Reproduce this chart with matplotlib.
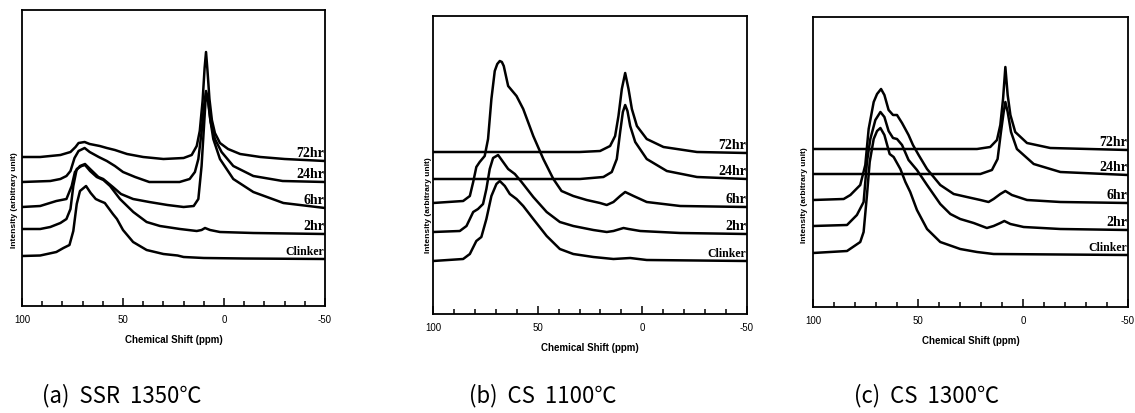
import numpy as np
import matplotlib
matplotlib.use("Agg")
import matplotlib.pyplot as plt

# ---------------- data (ppm, intensity in arbitrary units) ----------------
series_names = ['72hr', '24hr', '6hr', '2hr', 'Clinker']
captions = ['(a)  SSR  1350℃', '(b)  CS  1100℃', '(c)  CS  1300℃']
major_ticks = [100, 50, 0, -50]
major_labels = ['100', '50', '0', '-50']

# Panel (a) SSR 1350C
a72_ppm = [100, 91, 81, 76, 73.5, 72, 69, 66.5, 64, 61.5, 58, 54, 48, 40, 30, 20, 16, 13.5, 12, 10.6, 9.6, 8.9, 8.2, 7.2, 6, 4.5, 2, -2, -8, -18, -30, -50]
a72_int = [149, 149, 151, 154, 159, 163, 164, 162, 161, 160, 158, 156, 152, 149, 147, 148, 151, 160, 175, 205, 238, 254, 236, 207, 186, 173, 163, 157, 152, 149, 147, 145]
a24_ppm = [100, 86, 81, 78, 76, 74, 72, 69, 66.5, 62, 58, 54, 50, 44, 37, 30, 22, 17, 14.4, 12.7, 11.1, 9.9, 8.9, 7.9, 6.6, 4.5, 1.2, -4.6, -14.5, -29, -50]
a24_int = [124, 125, 127, 130, 135, 148, 155, 158, 154, 149, 145, 140, 134, 129, 124, 124, 124, 127, 134, 147, 174, 200, 215, 207, 184, 167, 154, 140, 130, 125, 124]
a6_ppm = [100, 91, 83, 78, 75.4, 73.8, 71.3, 68.8, 66.3, 62.2, 59.8, 55, 51, 45, 37, 28, 20, 15, 12.7, 11.1, 9.9, 8.9, 7.9, 6.9, 5.3, 2, -4.6, -14.5, -29.4, -50]
a6_int = [99, 100, 105, 107, 120, 134, 140, 142, 137, 129, 127, 119, 112, 107, 104, 101, 99, 100, 107, 140, 180, 213, 205, 188, 167, 147, 127, 114, 103, 98]
a2_ppm = [100, 91, 86, 81, 78, 76, 74.6, 72.9, 70.5, 68.8, 66.3, 63, 59.7, 56.4, 51.5, 44.9, 38.3, 31.7, 21.8, 13.5, 11.1, 9.4, 6.9, 2, -14.5, -50]
a2_int = [77, 77, 79, 83, 87, 97, 120, 137, 140, 141, 135, 129, 126, 120, 107, 94, 84, 80, 77, 75, 76, 78, 76, 74, 73, 72]
ac_ppm = [100, 91, 83, 79.5, 76.5, 74.6, 72.9, 71.3, 68.3, 66, 63.5, 61.4, 59, 55, 53, 50, 45, 38.3, 30, 23, 20, 10, -10, -50]
ac_int = [50, 50.5, 54, 58, 61, 75, 102, 115, 120, 113, 107, 105, 103, 92, 87, 76, 64, 56, 52, 50.5, 49, 48, 47.5, 47]

# Panel (b) CS 1100C
b72_ppm = [100, 60, 30, 20.2, 15.4, 13.0, 11.4, 9.8, 8.2, 6.6, 5.0, 2.6, -2.1, -10.1, -26.1, -50]
b72_int = [162, 162, 162, 163, 168, 178, 198, 225, 241, 225, 205, 188, 175, 167, 162, 161]
b24_ppm = [100, 29.8, 18.6, 14.6, 12.2, 10.6, 9.3, 8.2, 7.1, 5.8, 3.4, -2.1, -11.7, -26.1, -50]
b24_int = [135, 135, 137, 142, 155, 182, 202, 209, 203, 188, 172, 155, 143, 137, 135]
b6_ppm = [100, 85.6, 82.4, 80.8, 79.3, 77.7, 75.3, 73.7, 72.1, 70.5, 69.3, 68.1, 67.1, 66.2, 64.1, 60.1, 56.9, 52.1, 47.3, 42.5, 38.6, 33.0, 26.6, 20.2, 17.0, 13.8, 10.6, 8.2, 4.2, -2.1, -18.1, -50]
b6_int = [111, 113, 118, 132, 147, 152, 158, 175, 215, 243, 250, 253, 252, 248, 228, 218, 205, 178, 155, 135, 123, 118, 114, 111, 109, 112, 118, 122, 118, 112, 108, 107]
b2_ppm = [100, 87.2, 84.0, 80.8, 78.5, 76.1, 74.5, 72.9, 71.3, 68.9, 66.5, 64.1, 60.9, 57.7, 52.1, 45.7, 39.4, 33.0, 23.4, 17.0, 13.8, 10.6, 9.0, 6.6, 1.0, -18.1, -50]
b2_int = [82, 83, 88, 102, 105, 110, 125, 145, 156, 159, 152, 145, 140, 132, 117, 102, 92, 88, 84, 82, 83, 85, 86, 85, 83, 81, 80]
bc_ppm = [100, 85.6, 82.4, 79.3, 76.9, 74.5, 72.1, 69.7, 68.1, 65.7, 63.3, 60.1, 56.9, 52.1, 45.7, 39.4, 33.0, 23.4, 13.8, 5.8, -2.1, -50]
bc_int = [53, 55, 60, 73, 77, 95, 118, 130, 133, 128, 120, 115, 108, 95, 78, 65, 60, 57, 55, 56, 54, 53]

# Panel (c) CS 1300C
c72_ppm = [100, 21.9, 15.6, 12.4, 10.8, 9.5, 8.4, 7.3, 6.0, 3.7, -1.9, -13.0, -50]
c72_int = [158, 158, 160, 167, 182, 208, 240, 212, 192, 175, 164, 159, 157]
c24_ppm = [100, 20.3, 14.8, 12.1, 10.5, 9.2, 8.4, 7.3, 5.7, 2.9, -5.1, -17.8, -50]
c24_int = [133, 133, 137, 148, 175, 195, 205, 195, 175, 158, 143, 135, 132]
c6_ppm = [100, 85.4, 82.2, 77.5, 75.1, 73.5, 71.1, 69.5, 67.6, 66.0, 64.0, 61.9, 60.0, 57.6, 54.5, 52.4, 49.7, 45.7, 39.4, 33.0, 26.7, 20.3, 16.4, 14.0, 10.8, 8.4, 5.3, -1.9, -17.8, -50]
c6_int = [107, 108, 112, 122, 142, 178, 205, 213, 218, 212, 197, 192, 192, 184, 172, 162, 152, 138, 122, 113, 110, 107, 105, 108, 113, 116, 112, 107, 105, 104]
c2_ppm = [100, 83.8, 79.1, 75.9, 74.3, 72.7, 70.3, 67.9, 66.0, 64.0, 61.9, 60.0, 57.6, 54.5, 50.5, 45.7, 39.4, 34.6, 29.9, 23.5, 17.2, 14.0, 10.8, 8.9, 6.0, -0.3, -17.8, -50]
c2_int = [81, 82, 92, 105, 145, 168, 187, 195, 190, 176, 169, 168, 162, 147, 137, 122, 103, 93, 88, 84, 79, 81, 84, 86, 83, 80, 78, 77]
cc_ppm = [100, 83.8, 77.5, 75.9, 74.3, 73.0, 71.1, 69.5, 67.9, 66.0, 63.5, 61.6, 58.4, 56.0, 53.7, 50.5, 45.7, 39.4, 29.9, 21.9, 14.0, -50]
cc_int = [54, 56, 65, 75, 112, 145, 168, 176, 179, 172, 153, 150, 138, 125, 115, 97, 78, 65, 58, 55, 53, 52]

panels = [
    [(a72_ppm, a72_int), (a24_ppm, a24_int), (a6_ppm, a6_int), (a2_ppm, a2_int), (ac_ppm, ac_int)],
    [(b72_ppm, b72_int), (b24_ppm, b24_int), (b6_ppm, b6_int), (b2_ppm, b2_int), (bc_ppm, bc_int)],
    [(c72_ppm, c72_int), (c24_ppm, c24_int), (c6_ppm, c6_int), (c2_ppm, c2_int), (cc_ppm, cc_int)],
]
ymax = [296, 298, 290]

# ---------------- layout ----------------
W, H = 1135, 414
fig = plt.figure(figsize=(W / 100, H / 100), dpi=100)
fig.patch.set_facecolor('white')

# (left, top, right, bottom) in pixels
boxes = [(22, 11, 325, 307), (433, 17, 747, 315), (813, 18, 1128, 308)]
ylab_pos = [(15, 200), (428, 205), (805, 195)]
cap_x = [42, 469, 854]
cap_y = 396

for i, (l, t, r, b) in enumerate(boxes):
    ax = fig.add_axes([l / W, 1 - b / H, (r - l) / W, (b - t) / H])
    for (xs, ys) in panels[i]:
        ax.plot(xs, ys, color='black', lw=1.8, solid_joinstyle='round')
    ax.set_xlim(100, -50)
    ax.set_ylim(0, ymax[i])
    ax.set_yticks([])
    ax.set_xticks(major_ticks)
    ax.set_xticklabels(major_labels, family='Liberation Sans')
    ax.set_xticks([90, 80, 70, 60, 40, 30, 20, 10, -10, -20, -30, -40], minor=True)
    ax.tick_params(axis='x', which='major', direction='in', length=6, width=1.1,
                   pad=6, labelsize=7)
    ax.tick_params(axis='x', which='minor', direction='in', length=3.5, width=1.1)
    for sp in ax.spines.values():
        sp.set_linewidth(1.3)
        sp.set_color('black')
    ax.set_xlabel('Chemical Shift (ppm)', fontsize=7, fontweight='bold',
                  family='Liberation Sans', labelpad=7)
    # series labels at right end
    for name, (xs, ys) in zip(series_names, panels[i]):
        fs = 8.5 if name == 'Clinker' else 10
        ax.text(-49.5, ys[-1] + 2, name, ha='right', va='bottom', fontsize=fs,
                fontweight='bold', family='Liberation Serif')
    # y label
    yx, yy = ylab_pos[i]
    ax.text((yx - l) / (r - l), (b - yy) / (b - t), 'Intensity (arbitrary unit)',
            transform=ax.transAxes, rotation=90, ha='center', va='center',
            fontsize=6, fontweight='bold', family='Liberation Sans')
    fig.text(cap_x[i] / W, 1 - cap_y / H, captions[i], ha='left', va='center',
             fontsize=16, family=['Noto Sans CJK KR', 'DejaVu Sans'])

fig.savefig('out.png', dpi=100, facecolor='white')
